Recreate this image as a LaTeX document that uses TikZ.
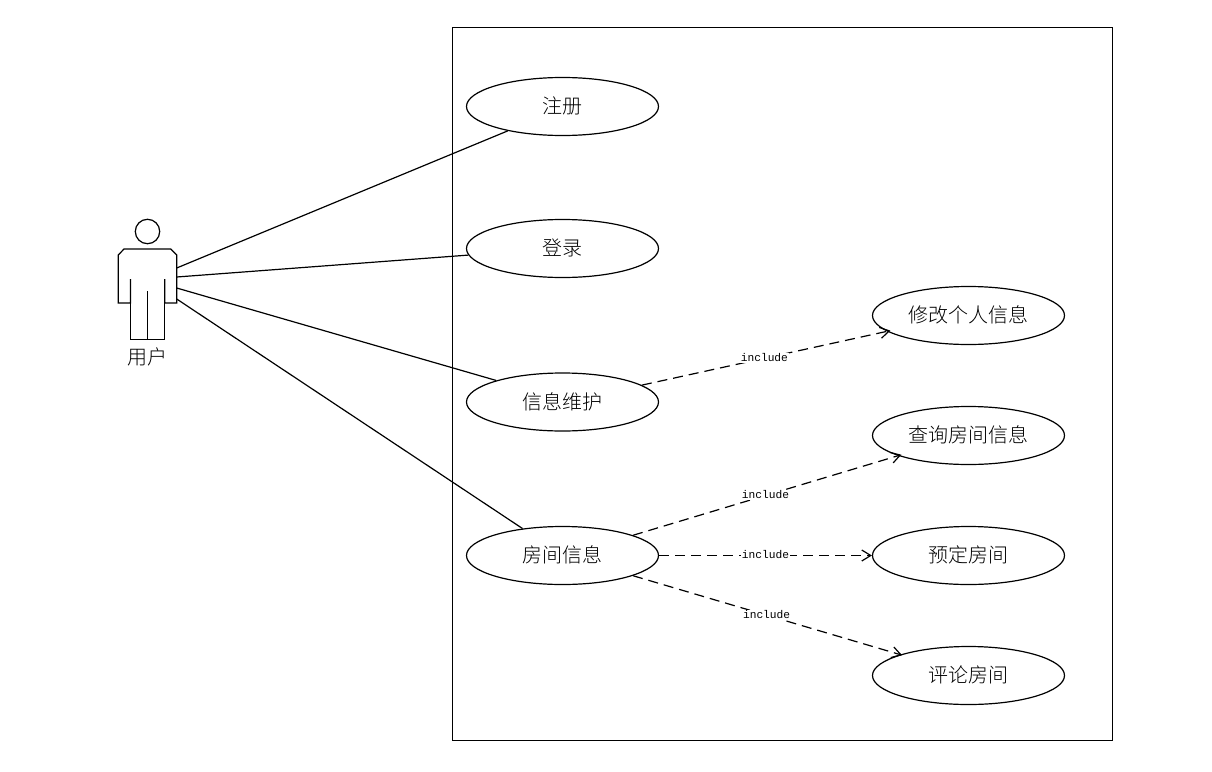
\documentclass[tikz,border=0pt]{standalone}
\usepackage{fontspec}
\usetikzlibrary{shapes.geometric,arrows.meta}
\newfontfamily\cjk{Noto Sans CJK SC Light}
\newfontfamily\lbl{Liberation Mono}
\newcommand{\uctext}[1]{\raisebox{2.5pt}{#1}}
\tikzset{
  usecase/.style={draw=black,line width=1.2pt,ellipse,minimum width=192pt,minimum height=58pt,inner sep=0pt,font=\cjk\fontsize{20}{20}\selectfont},
  assoc/.style={draw=black,line width=1.2pt},
  incl/.style={draw=black,line width=1.2pt,dash pattern=on 10pt off 6pt,shorten >=-3.5pt,-{Straight Barb[length=9pt,width=11pt,line width=1.2pt]}},
  incllabel/.style={fill=white,inner sep=1pt,yshift=0.5pt,font=\lbl\fontsize{11.2}{11.2}\selectfont},
  actorline/.style={draw=black,line width=1.2pt,line join=miter},
}
\begin{document}
\begin{tikzpicture}[x=1pt,y=-1pt]
\useasboundingbox (0,0) rectangle (1212,771);
\fill[white] (0,0) rectangle (1212,771);
% system boundary
\draw[line width=1.2pt] (452.5,27.5) rectangle (1112.5,740.5);
% actor
\draw[actorline] (147.5,231.5) circle (12.2pt);
\draw[actorline] (130.5,279) -- (130.5,303) -- (118.3,303) -- (118.3,255) -- (124,249) -- (170.7,249) -- (176.7,255) -- (176.7,303) -- (164.7,303) -- (164.7,279);
\draw[actorline] (130.5,303) -- (130.5,339.5) -- (164.7,339.5) -- (164.7,303);
\draw[actorline] (147.3,291) -- (147.3,339.5);
\node[inner sep=0pt,font=\cjk\fontsize{20}{20}\selectfont] (user) at (147,357) {用户};
\coordinate (a1) at (176.7,268);
\coordinate (a2) at (176.7,277);
\coordinate (a3) at (176.7,288);
\coordinate (a4) at (176.7,299);
% use cases
\node[usecase] (reg) at (562.5,106.5) {\uctext{注册}};
\node[usecase] (login) at (562.5,248.5) {\uctext{登录}};
\node[usecase] (info) at (562.5,402) {\uctext{信息维护}};
\node[usecase] (room) at (562.5,555.5) {\uctext{房间信息}};
\node[usecase] (edit) at (968.5,315.5) {\uctext{修改个人信息}};
\node[usecase] (query) at (968.5,435.5) {\uctext{查询房间信息}};
\node[usecase] (book) at (968.5,555.5) {\uctext{预定房间}};
\node[usecase] (review) at (968.5,675.5) {\uctext{评论房间}};
% associations
\draw[assoc] (a1) -- (reg.204.2);
\draw[assoc] (a2) -- (login.184);
\draw[assoc] (a3) -- (info.162.7);
\draw[assoc] (a4) -- (room.146.5);
% includes
\draw[incl] (info.12.2) -- node[incllabel]{include} (edit.191.8);
\draw[incl] (room.16.4) -- node[incllabel]{include} (query.196.6);
\draw[incl,shorten >=0pt] (room.0) -- node[incllabel]{include} (book.180);
\draw[incl,shorten >=-2pt] (room.-16.4) -- node[incllabel]{include} (review.163.4);
\end{tikzpicture}
\end{document}
